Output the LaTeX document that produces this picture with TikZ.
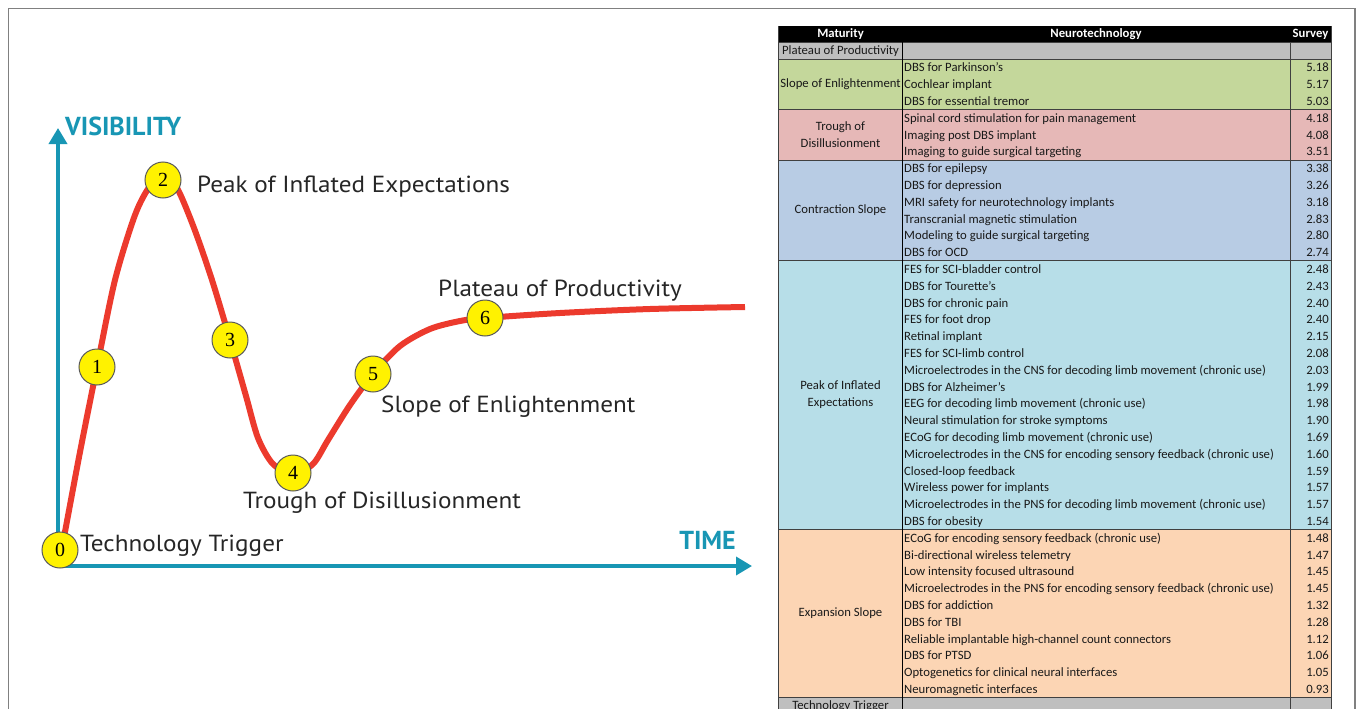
\documentclass[tikz,border=0pt]{standalone}
\usepackage{fontspec}
\setmainfont{Carlito}
\newfontfamily\labelfont[FakeStretch=1.08]{PT Sans}
\newfontfamily\axisfont{PT Sans}
\newfontfamily\numfont{Liberation Serif}
\usetikzlibrary{arrows.meta}
\definecolor{axisteal}{RGB}{24,150,180}
\definecolor{curvered}{RGB}{236,58,45}
\definecolor{cgray}{RGB}{191,191,191}
\definecolor{cgreen}{RGB}{196,215,155}
\definecolor{cpink}{RGB}{230,184,183}
\definecolor{cblue}{RGB}{184,204,228}
\definecolor{clblue}{RGB}{183,222,232}
\definecolor{corange}{RGB}{252,213,180}
\definecolor{framegray}{RGB}{128,128,128}
\definecolor{gridline}{RGB}{64,64,64}
\tikzset{
  stage/.style={circle, fill=yellow, draw=black!65, line width=1pt, minimum size=36pt, inner sep=0pt, font=\numfont\fontsize{20}{20}\selectfont},
  phase/.style={anchor=base west, inner sep=0pt, font=\labelfont\fontsize{23.3}{23.3}\selectfont, text=black!85},
  axislabel/.style={inner sep=0pt, font=\axisfont\bfseries\fontsize{26}{26}\selectfont, text=axisteal},
  cell/.style={inner sep=0pt, font=\fontsize{12.7}{14}\selectfont, text=black!90},
  headcell/.style={inner sep=0pt, font=\bfseries\fontsize{12.7}{14}\selectfont, text=white},
  matcell/.style={inner sep=0pt, align=center, font=\fontsize{12.7}{17}\selectfont, text=black!90},
  axisarrows/.style={{Triangle[length=16pt,width=18pt]}-{Triangle[length=16pt,width=18pt]}}
}
\begin{document}
\begin{tikzpicture}[x=1pt,y=-1pt]
\useasboundingbox (0,0) rectangle (1357,709);
\begin{scope}
\clip (0,0) rectangle (1357,709);
% outer frame
\draw[framegray, line width=1.5pt] (8.5,720) -- (8.5,8.5) -- (1355,8.5) -- (1355,720);

% ---------- hype cycle ----------
\coordinate (ytop) at (58,128);
\coordinate (origin) at (58,566);
\coordinate (xend) at (752,566);
\draw[axisteal, line width=3.5pt, axisarrows] (ytop) -- (origin) -- (xend);
\node[axislabel, anchor=west] (vis) at (65,126) {VISIBILITY};
\node[axislabel, anchor=east] (time) at (736,540) {TIME};

\draw[curvered, line width=6pt] plot[smooth, tension=0.5] coordinates {
 (62,548) (80,452) (97,367) (115,280) (135,215) (150,186) (163,176)
 (177,188) (194,228) (212,280) (230,340) (246,396) (258,438) (273,464)
 (293,474) (313,464) (328,440) (350,405) (373,374) (400,346) (430,329)
 (460,321) (485,318) (560,313) (650,309) (745,307)};

\node[stage] (s0) at (60,550) {0};
\node[stage] (s1) at (97,367) {1};
\node[stage] (s2) at (163,180) {2};
\node[stage] (s3) at (230,340) {3};
\node[stage] (s4) at (293,473) {4};
\node[stage] (s5) at (373,374) {5};
\node[stage] (s6) at (485,318) {6};

\node[phase] (lpeak) at (197,192) {Peak of Inflated Expectations};
\node[phase] (lplat) at (438,296) {Plateau of Productivity};
\node[phase] (lslope) at (381,412) {Slope of Enlightenment};
\node[phase] (ltrough) at (243,508) {Trough of Disillusionment};
\node[phase] (ltrig) at (80,551) {Technology Trigger};

% ---------- table ----------
\fill[black] (778,26) rectangle (1331,42.5);
\fill[cgray] (778,42.5) rectangle (1331,59.3);
\fill[cgreen] (778,59.3) rectangle (1331,109.7);
\fill[cpink] (778,109.7) rectangle (1331,160.1);
\fill[cblue] (778,160.1) rectangle (1331,260.9);
\fill[clblue] (778,260.9) rectangle (1331,529.7);
\fill[corange] (778,529.7) rectangle (1331,697.7);
\fill[cgray] (778,697.7) rectangle (1331,714.5);

\foreach \yy in {42.5,59.3,109.7,160.1,260.9,529.7,697.7}
  \draw[gridline, line width=1pt] (778,\yy) -- (1331,\yy);
\draw[black, line width=1.3pt] (902.5,42.5) -- (902.5,714.5);
\draw[gridline, line width=1pt] (1290,42.5) -- (1290,714.5);
\draw[gridline, line width=0.8pt] (778,26) -- (778,714.5);
\draw[gridline, line width=1pt] (1331,26) -- (1331,714.5);

\node[headcell] (hmat) at (840.5,34.5) {Maturity};
\node[headcell] (hneu) at (1096,34.5) {Neurotechnology};
\node[headcell] (hsur) at (1310.5,34.5) {Survey};

\node[matcell] (mplat) at (840.5,51) {Plateau of Productivity};
\node[matcell] (mslope) at (840.5,84.5) {Slope of Enlightenment};
\node[matcell] (mtrough) at (840.5,135) {Trough of\\Disillusionment};
\node[matcell] (mcontr) at (840.5,210.5) {Contraction Slope};
\node[matcell] (mpeak) at (840.5,395) {Peak of Inflated\\Expectations};
\node[matcell] (mexp) at (840.5,613.5) {Expansion Slope};
\node[matcell] (mtrig) at (840.5,706) {Technology Trigger};

\foreach \txt/\val [count=\i from 2] in {
 DBS for Parkinson's/5.18,
 Cochlear implant/5.17,
 DBS for essential tremor/5.03,
 Spinal cord stimulation for pain management/4.18,
 Imaging post DBS implant/4.08,
 Imaging to guide surgical targeting/3.51,
 DBS for epilepsy/3.38,
 DBS for depression/3.26,
 MRI safety for neurotechnology implants/3.18,
 Transcranial magnetic stimulation/2.83,
 Modeling to guide surgical targeting/2.80,
 DBS for OCD/2.74,
 FES for SCI-bladder control/2.48,
 DBS for Tourette's/2.43,
 DBS for chronic pain/2.40,
 FES for foot drop/2.40,
 Retinal implant/2.15,
 FES for SCI-limb control/2.08,
 Microelectrodes in the CNS for decoding limb movement (chronic use)/2.03,
 DBS for Alzheimer's/1.99,
 EEG for decoding limb movement (chronic use)/1.98,
 Neural stimulation for stroke symptoms/1.90,
 ECoG for decoding limb movement (chronic use)/1.69,
 Microelectrodes in the CNS for encoding sensory feedback (chronic use)/1.60,
 Closed-loop feedback/1.59,
 Wireless power for implants/1.57,
 Microelectrodes in the PNS for decoding limb movement (chronic use)/1.57,
 DBS for obesity/1.54,
 ECoG for encoding sensory feedback (chronic use)/1.48,
 Bi-directional wireless telemetry/1.47,
 Low intensity focused ultrasound/1.45,
 Microelectrodes in the PNS for encoding sensory feedback (chronic use)/1.45,
 DBS for addiction/1.32,
 DBS for TBI/1.28,
 Reliable implantable high-channel count connectors/1.12,
 DBS for PTSD/1.06,
 Optogenetics for clinical neural interfaces/1.05,
 Neuromagnetic interfaces/0.93}{
  \node[cell, anchor=base west] (t\i) at (904,{34.1+\i*16.8+4.2}) {\txt};
  \node[cell, anchor=base east] (v\i) at (1329,{34.1+\i*16.8+4.2}) {\val};
}
\end{scope}
\end{tikzpicture}
\end{document}
